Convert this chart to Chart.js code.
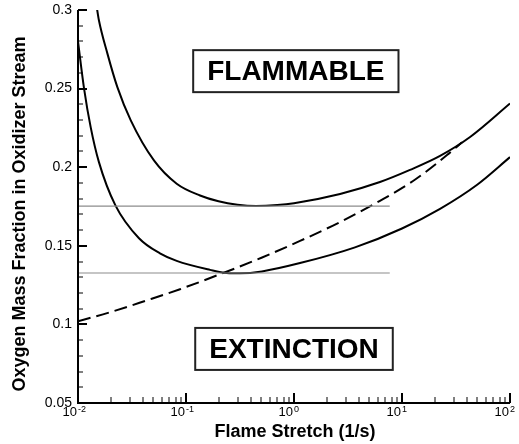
<!DOCTYPE html>
<html lang="en">
<head>
<meta charset="UTF-8">
<title>Oxygen mass fraction vs flame stretch</title>
<script src="https://cdn.jsdelivr.net/npm/chart.js"></script>
<style>
  body { margin: 0; background: #ffffff; }
  .chart-box { position: relative; width: 519px; height: 444px; }
</style>
</head>
<body>
<div class="chart-box"><canvas id="chart"></canvas></div>
<script>
// --- values ---
// upper solid curve
const upperStretch = [0.0149, 0.0156, 0.0187, 0.0231, 0.0308, 0.0505, 0.082, 0.135, 0.2, 0.3, 0.445, 0.7, 1.0, 2.67, 6.25, 11.86, 22.5, 42.7, 100];
const upperO2      = [0.302, 0.2936, 0.2724, 0.2511, 0.2298, 0.2043, 0.1895, 0.182, 0.1783, 0.1761, 0.1753, 0.1759, 0.1771, 0.183, 0.1906, 0.1983, 0.2072, 0.2192, 0.2405];

// lower solid curve
const lowerStretch = [0.01, 0.0114, 0.0131, 0.0156, 0.0222, 0.0367, 0.0574, 0.082, 0.167, 0.238, 0.316, 0.505, 1.137, 3.67, 10, 22.5, 50, 100];
const lowerO2      = [0.280, 0.2497, 0.2255, 0.2034, 0.1757, 0.1548, 0.1452, 0.1404, 0.1347, 0.1327, 0.1325, 0.1337, 0.139, 0.149, 0.161, 0.1735, 0.189, 0.2064];

// dashed curve
const dashStretch = [0.01, 0.02, 0.043, 0.088, 0.221, 0.5, 1.137, 2.67, 6.25, 12.65, 26.1, 35.9];
const dashO2      = [0.102, 0.1078, 0.1152, 0.1224, 0.1327, 0.1424, 0.1531, 0.1651, 0.1786, 0.1912, 0.2077, 0.2158];

// grey reference levels
const refLevels = [0.1753, 0.1327];
const refStretch = [0.01, 7.7];

// axis ticks
const yTicks = [0.05, 0.1, 0.15, 0.2, 0.25, 0.3];
const yTickLabels = ['0.05', '0.1', '0.15', '0.2', '0.25', '0.3'];
const xTicks = [0.01, 0.1, 1, 10, 100];
const xTickExp = ['-2', '-1', '0', '1', '2'];

// region labels
const regionLabels = ['FLAMMABLE', 'EXTINCTION'];
const regionStretch = [1.04, 1.0];
const regionO2 = [0.2611, 0.0844];

const FONT = '"Liberation Sans", Arial, sans-serif';

function toPoints(xs, ys) {
  return xs.map((v, i) => ({ x: v, y: ys[i] }));
}

const curveStyle = {
  showLine: true,
  borderColor: '#000',
  borderWidth: 2,
  pointRadius: 0,
  cubicInterpolationMode: 'monotone',
  fill: false
};

const datasets = [
  ...refLevels.map(lv => ({
    data: toPoints(refStretch, refStretch.map(() => lv)),
    showLine: true, borderColor: '#8c8c8c', borderWidth: 1.2, pointRadius: 0
  })),
  Object.assign({ data: toPoints(upperStretch, upperO2) }, curveStyle),
  Object.assign({ data: toPoints(lowerStretch, lowerO2) }, curveStyle),
  Object.assign({ data: toPoints(dashStretch, dashO2), borderDash: [13, 6] }, curveStyle)
];

// axes, ticks, labels and boxed region names drawn with the chart's scales
const axesPlugin = {
  id: 'axes',
  afterDatasetsDraw(chart) {
    const { ctx, chartArea: a, scales: { x, y } } = chart;
    ctx.save();
    ctx.strokeStyle = '#000';
    ctx.fillStyle = '#000';

    // y minor/major ticks (inward)
    for (let i = 5; i <= 30; i++) {
      const py = Math.round(y.getPixelForValue(i / 100));
      const major = i % 5 === 0;
      ctx.lineWidth = major ? 2 : 1;
      ctx.beginPath();
      ctx.moveTo(a.left, py);
      ctx.lineTo(a.left + (major ? 9 : 5), py);
      ctx.stroke();
    }
    // x ticks per decade
    for (let d = -2; d <= 2; d++) {
      for (let m = 1; m <= 9; m++) {
        if (d === 2 && m > 1) break;
        const px = Math.round(x.getPixelForValue(m * Math.pow(10, d)));
        const major = m === 1;
        ctx.lineWidth = major ? 2 : 1;
        ctx.beginPath();
        ctx.moveTo(px, a.bottom);
        ctx.lineTo(px, a.bottom - (major ? 10 : 6));
        ctx.stroke();
      }
    }
    // axis lines
    ctx.lineWidth = 2;
    ctx.beginPath();
    ctx.moveTo(a.left, a.top);
    ctx.lineTo(a.left, a.bottom);
    ctx.lineTo(a.right, a.bottom);
    ctx.stroke();

    // y tick labels
    ctx.font = '14px ' + FONT;
    ctx.textAlign = 'right';
    ctx.textBaseline = 'middle';
    yTicks.forEach((v, i) => {
      ctx.fillText(yTickLabels[i], a.left - 6, y.getPixelForValue(v));
    });

    // x tick labels: 10 with superscript exponent
    xTicks.forEach((v, i) => {
      const px = x.getPixelForValue(v);
      ctx.font = '13px ' + FONT;
      ctx.textAlign = 'right';
      ctx.textBaseline = 'top';
      ctx.fillText('10', px - 1, a.bottom + 3);
      ctx.font = '9px ' + FONT;
      ctx.textAlign = 'left';
      ctx.fillText(xTickExp[i], px, a.bottom + 2);
    });

    // axis titles
    ctx.font = 'bold 18px ' + FONT;
    ctx.textAlign = 'center';
    ctx.textBaseline = 'middle';
    ctx.fillText('Flame Stretch (1/s)', 295, 432);
    ctx.save();
    ctx.translate(20, 214);
    ctx.rotate(-Math.PI / 2);
    ctx.fillText('Oxygen Mass Fraction in Oxidizer Stream', 0, 0);
    ctx.restore();

    // boxed region names
    ctx.font = 'bold 28px ' + FONT;
    regionLabels.forEach((txt, i) => {
      const cx = x.getPixelForValue(regionStretch[i]);
      const cy = y.getPixelForValue(regionO2[i]);
      const w = ctx.measureText(txt).width + 28;
      const h = 42;
      ctx.fillStyle = '#fff';
      ctx.fillRect(cx - w / 2, cy - h / 2, w, h);
      ctx.lineWidth = 2;
      ctx.strokeStyle = '#222';
      ctx.strokeRect(cx - w / 2, cy - h / 2, w, h);
      ctx.fillStyle = '#000';
      ctx.fillText(txt, cx, cy + 1);
    });
    ctx.restore();
  }
};

new Chart(document.getElementById('chart'), {
  type: 'scatter',
  data: { datasets: datasets },
  options: {
    responsive: true,
    maintainAspectRatio: false,
    animation: false,
    layout: { padding: { left: 78, right: 9, top: 10, bottom: 41 } },
    scales: {
      x: { type: 'logarithmic', min: 0.01, max: 100, display: false },
      y: { type: 'linear', min: 0.05, max: 0.3, display: false }
    },
    plugins: { legend: { display: false }, tooltip: { enabled: false } }
  },
  plugins: [axesPlugin]
});
</script>
</body>
</html>
